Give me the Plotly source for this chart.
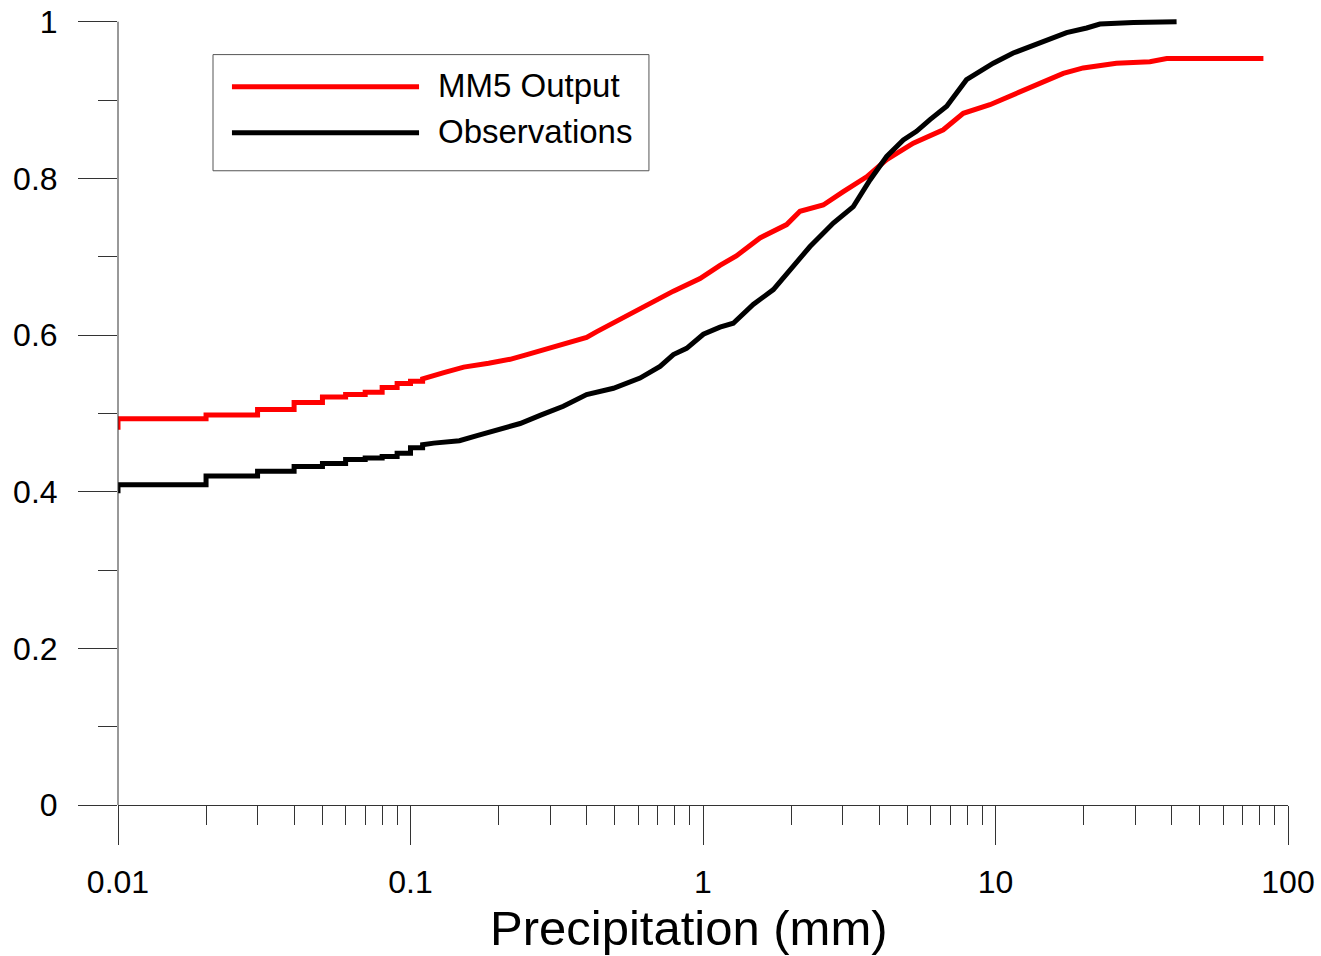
import plotly.graph_objects as go

# ---------------- data ----------------
# MM5 Output: empirical CDF, discrete steps at low values then a smooth part
mm5_start_y = 0.479
mm5_step_x = [0.01, 0.02, 0.03, 0.04, 0.05, 0.06, 0.07, 0.08, 0.09, 0.10, 0.11]
mm5_step_y = [0.493, 0.498, 0.505, 0.514, 0.521, 0.524, 0.527, 0.533, 0.538, 0.541, 0.544]
mm5_x = [0.13, 0.152, 0.185, 0.219, 0.25, 0.292, 0.34, 0.40, 0.432, 0.5, 0.578, 0.68,
         0.792, 0.977, 1.143, 1.30, 1.566, 1.932, 2.146, 2.577, 3.018, 3.627, 4.246,
         5.236, 6.63, 7.76, 9.57, 11.8, 14.2, 17.05, 19.95, 25.9, 33.7, 38.5, 82.4]
mm5_y = [0.552, 0.559, 0.564, 0.569, 0.575, 0.582, 0.590, 0.597, 0.604, 0.617, 0.630, 0.643,
         0.656, 0.672, 0.689, 0.701, 0.724, 0.741, 0.758, 0.766, 0.783, 0.802, 0.824,
         0.845, 0.862, 0.883, 0.894, 0.909, 0.922, 0.934, 0.941, 0.947, 0.949, 0.953, 0.953]

# Observations
obs_start_y = 0.398
obs_step_x = [0.01, 0.02, 0.03, 0.04, 0.05, 0.06, 0.07, 0.08, 0.09, 0.10, 0.11]
obs_step_y = [0.409, 0.420, 0.426, 0.432, 0.436, 0.441, 0.443, 0.445, 0.449, 0.456, 0.460]
obs_x = [0.12, 0.147, 0.17, 0.192, 0.237, 0.28, 0.333, 0.40, 0.494, 0.609, 0.713, 0.792,
         0.879, 1.003, 1.143, 1.269, 1.485, 1.740, 2.035, 2.322, 2.790, 3.265, 3.723,
         4.246, 4.841, 5.37, 5.97, 6.81, 7.96, 9.83, 11.5, 14.96, 17.5, 20.5, 22.75,
         29.6, 41.6]
obs_y = [0.462, 0.465, 0.472, 0.478, 0.487, 0.498, 0.509, 0.524, 0.532, 0.545, 0.560, 0.575,
         0.583, 0.601, 0.610, 0.615, 0.639, 0.658, 0.688, 0.713, 0.743, 0.764, 0.798,
         0.828, 0.849, 0.860, 0.875, 0.892, 0.926, 0.947, 0.960, 0.977, 0.986, 0.992, 0.997,
         0.999, 1.0]

x_tick_vals = [0.01, 0.1, 1, 10, 100]
x_tick_text = ["0.01", "0.1", "1", "10", "100"]
y_tick_vals = [0, 0.2, 0.4, 0.6, 0.8, 1.0]
y_tick_text = ["0", "0.2", "0.4", "0.6", "0.8", "1"]
y_minor_vals = [0.1, 0.3, 0.5, 0.7, 0.9]

series_names = ["MM5 Output", "Observations"]
series_colors = ["#ff0000", "#000000"]


def build(start_y, sx, sy, cx, cy):
    xs, ys = [sx[0]], [start_y]
    prev = start_y
    for x, y in zip(sx, sy):
        xs += [x, x]
        ys += [prev, y]
        prev = y
    xs += cx
    ys += cy
    return xs, ys


mx, my = build(mm5_start_y, mm5_step_x, mm5_step_y, mm5_x, mm5_y)
ox, oy = build(obs_start_y, obs_step_x, obs_step_y, obs_x, obs_y)

minor_x = [m * 10 ** e for e in range(-2, 2) for m in range(2, 10)]

FONT = "Liberation Sans, Arial, sans-serif"
AX = "#333333"

fig = go.Figure()
fig.add_trace(go.Scatter(x=mx, y=my, mode="lines", name=series_names[0],
                         line=dict(color=series_colors[0], width=5), hoverinfo="skip"))
fig.add_trace(go.Scatter(x=ox, y=oy, mode="lines", name=series_names[1],
                         line=dict(color=series_colors[1], width=5), hoverinfo="skip"))

fig.update_layout(
    width=1321, height=956,
    margin=dict(l=118, r=33, t=17, b=151, autoexpand=False),
    paper_bgcolor="white", plot_bgcolor="white",
    showlegend=False,
    font=dict(family=FONT, color="black"),
)

fig.update_xaxes(
    type="log", range=[-2, 2], automargin=False,
    showline=True, linecolor=AX, linewidth=1,
    showgrid=False, zeroline=False,
    ticks="outside", ticklen=39, tickwidth=1, tickcolor=AX,
    tickmode="array", tickvals=x_tick_vals, ticktext=x_tick_text,
    tickfont=dict(size=32, family=FONT, color="black"),
    ticklabelstandoff=10, ticklabeloverflow="allow",
    minor=dict(ticks="outside", ticklen=19, tickwidth=1, tickcolor=AX,
               tickmode="array", tickvals=minor_x, showgrid=False),
)
fig.update_yaxes(
    range=[0, 1.006], automargin=False,
    showline=False,
    showgrid=False, zeroline=False,
    ticks="outside", ticklen=39, tickwidth=1, tickcolor=AX,
    tickmode="array", tickvals=y_tick_vals, ticktext=y_tick_text,
    tickfont=dict(size=32, family=FONT, color="black"),
    ticklabelstandoff=14, ticklabeloverflow="allow",
    minor=dict(ticks="outside", ticklen=19, tickwidth=1, tickcolor=AX,
               tickmode="array", tickvals=y_minor_vals, showgrid=False),
)

# y axis line from 0 to 1 only
fig.add_shape(type="line", xref="paper", yref="y", x0=0, x1=0, y0=0, y1=1,
              line=dict(color=AX, width=1))

# custom legend box
fig.add_shape(type="rect", xref="paper", yref="y", x0=0.0812, x1=0.4538,
              y0=0.8097, y1=0.958, line=dict(color="#555555", width=1),
              fillcolor="white", layer="above")
leg_y = [0.917, 0.8582]
for name, col, yy in zip(series_names, series_colors, leg_y):
    fig.add_shape(type="line", xref="paper", yref="y", x0=0.0974, x1=0.2573,
                  y0=yy, y1=yy, line=dict(color=col, width=5), layer="above")
    fig.add_annotation(xref="paper", yref="y", x=0.2718, y=yy + 0.002, text=name,
                       showarrow=False, xanchor="left", yanchor="middle",
                       font=dict(size=33, family=FONT, color="black"))

# axis title
fig.add_annotation(xref="paper", yref="paper", x=0.488, y=-0.156,
                   text="Precipitation (mm)", showarrow=False,
                   xanchor="center", yanchor="middle",
                   font=dict(size=49, family=FONT, color="black"))

fig.write_html(
    "out.html",
    config={"displayModeBar": False, "staticPlot": True},
    post_script="document.body.style.margin='0';document.body.style.overflow='hidden';",
)
